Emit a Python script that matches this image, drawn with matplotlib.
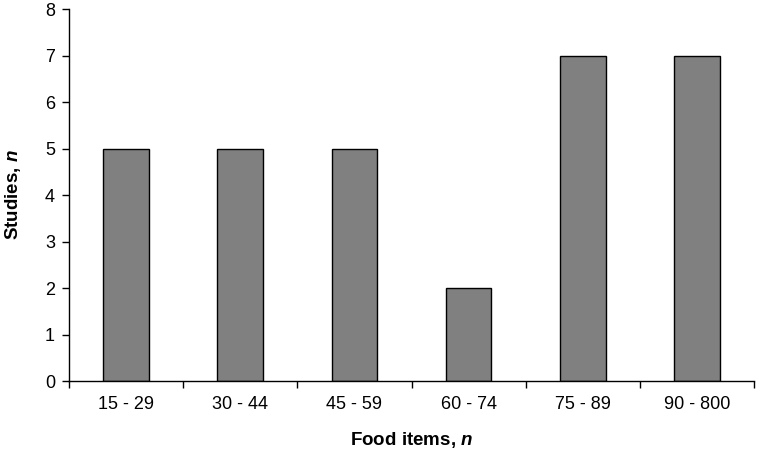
import matplotlib
matplotlib.use("Agg")
import matplotlib.pyplot as plt
import numpy as np

categories = ["15 - 29", "30 - 44", "45 - 59", "60 - 74", "75 - 89", "90 - 800"]
studies = [5, 5, 5, 2, 7, 7]

plt.rcParams["font.family"] = "Liberation Sans"
plt.rcParams["mathtext.fontset"] = "custom"
plt.rcParams["mathtext.it"] = "Liberation Sans:italic:bold"

fig = plt.figure(figsize=(7.57, 4.51), dpi=100)
ax = fig.add_axes([0.0911, 0.1552, 0.905, 0.8248])

x = np.arange(len(categories))
ax.bar(x, studies, width=0.4, color="#808080", edgecolor="black", linewidth=1.0)

ax.set_xlim(-0.5, len(categories) - 0.5)
ax.set_ylim(0, 8)
ax.set_yticks(range(0, 9))
ax.set_xticks(x)
ax.set_xticklabels(categories)
ax.set_xticks(np.arange(-0.5, len(categories)), minor=True)
ax.tick_params(axis="x", which="major", length=0, pad=11, labelsize=13)
ax.tick_params(axis="x", which="minor", length=5, width=1.0, direction="out")
ax.tick_params(axis="y", length=5, width=1.0, direction="out", labelsize=13, pad=5)

for s in ["top", "right"]:
    ax.spines[s].set_visible(False)
for s in ["left", "bottom"]:
    ax.spines[s].set_linewidth(1.0)

ax.set_xlabel("Food items, $n$", fontsize=13.5, fontweight="bold", labelpad=12)
ax.set_ylabel("Studies, $n$", fontsize=13.5, fontweight="bold", labelpad=16)

fig.savefig("out.png", dpi=100)
